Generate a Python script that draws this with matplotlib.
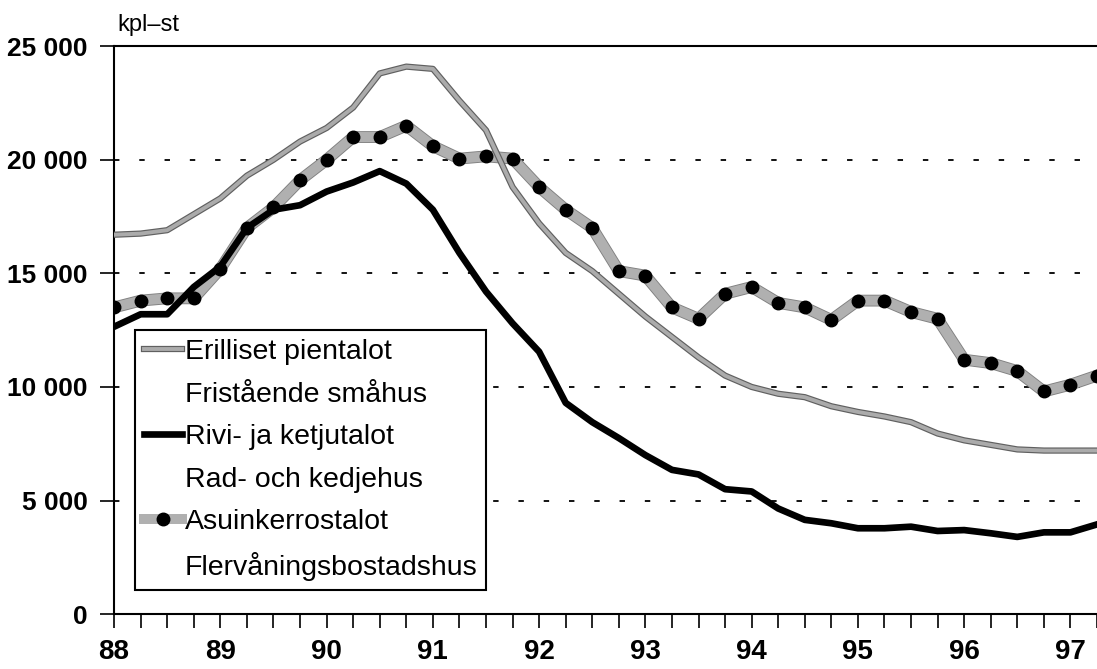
import numpy as np
import matplotlib
matplotlib.use("Agg")
import matplotlib.pyplot as plt
import matplotlib.patheffects as pe
from matplotlib.lines import Line2D

plt.rcParams['font.family'] = ['Liberation Sans', 'DejaVu Sans']

# quarterly data, 1988 Q1 .. 1997 Q2
quarters = np.arange(88, 97.26, 0.25)

erilliset = [16700, 16750, 16900, 17600, 18300, 19300, 20000, 20800,
             21400, 22300, 23800, 24100, 24000, 22600, 21300, 18800,
             17200, 15900, 15100, 14100, 13100, 12200, 11300, 10500,
             10000, 9700, 9550, 9150, 8900, 8700, 8450, 7950,
             7650, 7450, 7250, 7200, 7200, 7200]

rivi = [12650, 13200, 13200, 14400, 15300, 17000, 17800, 18000,
        18600, 19000, 19500, 18950, 17800, 15900, 14200, 12800,
        11550, 9300, 8450, 7750, 7000, 6350, 6150, 5500,
        5400, 4650, 4150, 4000, 3780, 3780, 3850, 3660,
        3700, 3560, 3400, 3600, 3600, 3950]

asuin = [13500, 13800, 13900, 13900, 15200, 17000, 17900, 19100,
         20000, 21000, 21000, 21500, 20600, 20050, 20150, 20050,
         18800, 17800, 17000, 15100, 14900, 13500, 13000, 14100,
         14400, 13700, 13500, 12950, 13800, 13800, 13300, 13000,
         11200, 11050, 10700, 9800, 10100, 10500]

labels_fi = ['Erilliset pientalot', 'Rivi- ja ketjutalot', 'Asuinkerrostalot']
labels_sv = ['Fristående småhus', 'Rad- och kedjehus', 'Flervåningsbostadshus']

fig = plt.figure(figsize=(10.97, 6.69), dpi=100)
ax = fig.add_axes([0.104, 0.082, 0.896, 0.849])

# dotted grid
for v in [5000, 10000, 15000, 20000]:
    ax.axhline(v, color='black', lw=1.3, ls=(0, (3, 11)), zorder=1)

thin_fx = [pe.Stroke(linewidth=4.5, foreground='#606060'), pe.Normal()]
band_fx = [pe.Stroke(linewidth=8.5, foreground='#808080'), pe.Normal()]

ax.plot(quarters, erilliset, color='#ababab', lw=2.8, zorder=3, path_effects=thin_fx)
ax.plot(quarters, rivi, color='black', lw=4.8, zorder=4)
ax.plot(quarters, asuin, color='#b0b0b0', lw=7.2, zorder=2, path_effects=band_fx)
ax.plot(quarters, asuin, ls='none', marker='o', markersize=9,
        markerfacecolor='black', markeredgecolor='black', zorder=2.5)

ax.set_xlim(88, 97.25)
ax.set_ylim(0, 25000)
ax.set_xticks(range(88, 98))
ax.set_xticklabels([str(y) for y in range(88, 98)])
ax.set_xticks(quarters, minor=True)
ax.set_yticks(range(0, 25001, 5000))
ax.set_yticklabels(['0', '5 000', '10 000', '15 000', '20 000', '25 000'])

ax.tick_params(axis='x', which='both', direction='out', length=10, width=1.2, pad=8)
ax.tick_params(axis='x', labelsize=20)
ax.tick_params(axis='y', direction='out', length=10, width=1.2, pad=9, labelsize=19)
for t in ax.get_xticklabels() + ax.get_yticklabels():
    t.set_fontweight('bold')

for s in ['left', 'bottom', 'top']:
    ax.spines[s].set_linewidth(1.5)
ax.spines['right'].set_visible(False)

blank = Line2D([], [], color='none')
leg_handles = [Line2D([], [], color='#ababab', lw=2.8, path_effects=thin_fx),
               blank,
               Line2D([], [], color='black', lw=4.8),
               blank,
               Line2D([], [], color='#b0b0b0', lw=7.2, marker='o', markersize=9,
                      markerfacecolor='black', markeredgecolor='black'),
               blank]
leg_labels = [labels_fi[0], labels_sv[0], labels_fi[1], labels_sv[1],
              labels_fi[2], labels_sv[2]]
leg = ax.legend(leg_handles, leg_labels, loc='upper left',
                bbox_to_anchor=(0.021, 0.5), fontsize=20.5, frameon=True,
                fancybox=False, edgecolor='black', handlelength=1.35,
                handletextpad=0.08, labelspacing=0.58, borderpad=0.32,
                borderaxespad=0, framealpha=1)
leg.get_frame().set_linewidth(1.5)
leg.set_zorder(10)

fig.text(117 / 1097, 1 - 31 / 669, 'kpl–st', fontsize=17, va='baseline')

fig.savefig('out.png', dpi=100)
